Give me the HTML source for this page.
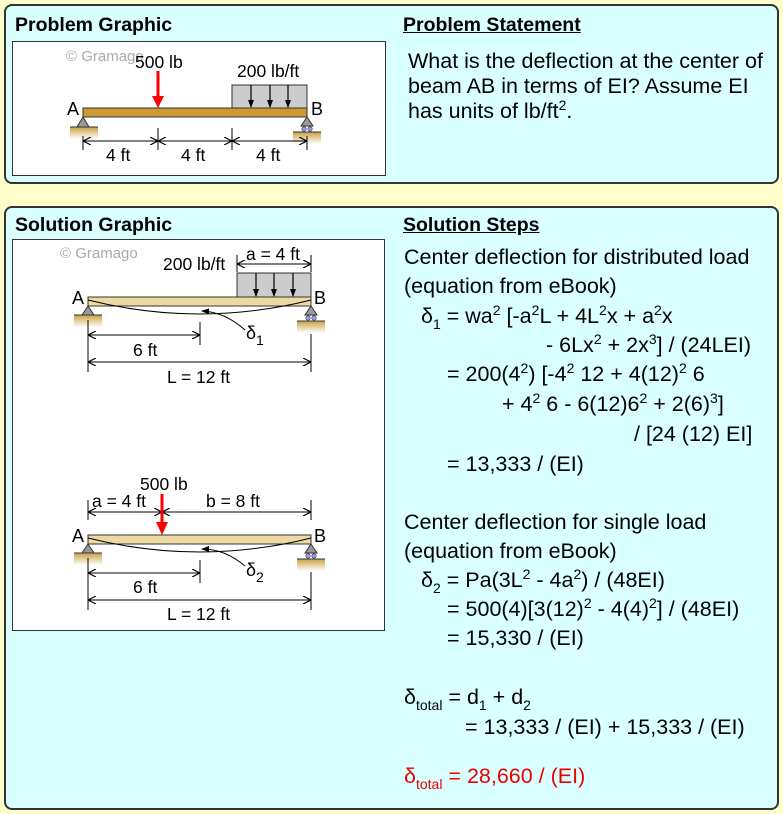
<!DOCTYPE html>
<html><head><style>
body{margin:0;width:783px;height:814px;background:#ffffcc;position:relative;overflow:hidden;font-family:"Liberation Sans",Arial,sans-serif;}
.panel{position:absolute;background:#d9ffff;border:2px solid #333;border-radius:8px;box-sizing:border-box;}
.box{position:absolute;background:#fff;border:1.5px solid #333;box-sizing:border-box;}
.h{position:absolute;font-weight:bold;font-size:19.5px;}
.t{position:absolute;font-size:21.5px;white-space:nowrap;line-height:24px;}
sup{font-size:14px;vertical-align:8px;line-height:0}
sub{font-size:14px;vertical-align:-6px;line-height:0}
.red{color:#e00;}
</style></head><body>
<div class="panel" style="left:4px;top:4px;width:775px;height:180px"></div>
<div class="panel" style="left:4px;top:206px;width:775px;height:604px"></div>
<div class="h" style="left:15px;top:14px">Problem Graphic</div>
<div class="h" style="left:403px;top:14px;text-decoration:underline">Problem Statement</div>
<div class="h" style="left:15px;top:214px">Solution Graphic</div>
<div class="h" style="left:403px;top:214px;text-decoration:underline">Solution Steps</div>
<div class="box" style="left:12px;top:41px;width:374px;height:135px"></div>
<div class="box" style="left:12px;top:239px;width:373px;height:392px"></div>

<div class="t" style="left:408px;top:49px">What is the deflection at the center of</div>
<div class="t" style="left:408px;top:74px">beam AB in terms of EI? Assume EI</div>
<div class="t" style="left:408px;top:99px">has units of lb/ft<sup>2</sup>.</div>

<div class="t" style="left:404px;top:245px">Center deflection for distributed load</div>
<div class="t" style="left:404px;top:274px">(equation from eBook)</div>
<div class="t" style="left:421px;top:304px">δ<sub>1</sub> = wa<sup>2</sup> [-a<sup>2</sup>L + 4L<sup>2</sup>x + a<sup>2</sup>x</div>
<div class="t" style="left:546px;top:333px">- 6Lx<sup>2</sup> + 2x<sup>3</sup>] / (24LEI)</div>
<div class="t" style="left:447px;top:362px">= 200(4<sup>2</sup>) [-4<sup>2</sup> 12 + 4(12)<sup>2</sup> 6</div>
<div class="t" style="left:502px;top:392px">+ 4<sup>2</sup> 6 - 6(12)6<sup>2</sup> + 2(6)<sup>3</sup>]</div>
<div class="t" style="left:634px;top:422px">/ [24 (12) EI]</div>
<div class="t" style="left:447px;top:452px">= 13,333 / (EI)</div>

<div class="t" style="left:404px;top:510px">Center deflection for single load</div>
<div class="t" style="left:404px;top:539px">(equation from eBook)</div>
<div class="t" style="left:421px;top:568px">δ<sub>2</sub> = Pa(3L<sup>2</sup> - 4a<sup>2</sup>) / (48EI)</div>
<div class="t" style="left:447px;top:597px">= 500(4)[3(12)<sup>2</sup> - 4(4)<sup>2</sup>] / (48EI)</div>
<div class="t" style="left:447px;top:626px">= 15,330 / (EI)</div>
<div class="t" style="left:404px;top:685px">δ<sub>total</sub> = d<sub>1</sub> + d<sub>2</sub></div>
<div class="t" style="left:465px;top:715px">= 13,333 / (EI) + 15,333 / (EI)</div>
<div class="t red" style="left:404px;top:764px">δ<sub>total</sub> = 28,660 / (EI)</div>

<svg width="783" height="814" style="position:absolute;left:0;top:0" font-family="Liberation Sans, Arial, sans-serif">
<defs>
<linearGradient id="g" x1="0" y1="0" x2="0" y2="1"><stop offset="0" stop-color="#c9a040"/><stop offset="1" stop-color="#fff"/></linearGradient>
<marker id="ar" markerWidth="8" markerHeight="8" refX="7" refY="4" orient="auto-start-reverse" markerUnits="userSpaceOnUse"><path d="M0,0 L8,4 L0,8" fill="none" stroke="#000" stroke-width="1.2"/></marker>
<marker id="af" markerWidth="8" markerHeight="8" refX="7" refY="4" orient="auto" markerUnits="userSpaceOnUse"><path d="M0,1 L8,4 L0,7z" fill="#000"/></marker>
</defs>
<!-- Problem graphic -->
<text x="66" y="61" font-size="15" fill="#aaa">© Gramago</text>
<text x="135" y="68" font-size="17.5">500 lb</text>
<line x1="158" y1="71" x2="158" y2="98" stroke="#f00" stroke-width="3"/>
<path d="M152,96 L164,96 L158,108z" fill="#f00"/>
<text x="237" y="77" font-size="17.5">200 lb/ft</text>
<rect x="232" y="85" width="75" height="23" fill="#ccc" stroke="#333"/>
<g stroke="#000" stroke-width="1.2" marker-end="url(#af)"><line x1="251" y1="85" x2="251" y2="107"/><line x1="270" y1="85" x2="270" y2="107"/><line x1="288" y1="85" x2="288" y2="107"/></g>
<rect x="83" y="108" width="224" height="9" fill="#cc9933" stroke="#333"/>
<text x="67" y="115" font-size="18">A</text><text x="311" y="115" font-size="18">B</text>
<path d="M83,117 L77,127 L89,127z" fill="#999" stroke="#333"/>
<rect x="70" y="127" width="28" height="12" fill="url(#g)"/><line x1="70" y1="127" x2="98" y2="127" stroke="#333"/>
<path d="M307,117 L301,126 L313,126z" fill="#999" stroke="#333"/>
<circle cx="304" cy="129" r="2.2" fill="#99f" stroke="#333" stroke-width=".6"/><circle cx="310" cy="129" r="2.2" fill="#99f" stroke="#333" stroke-width=".6"/>
<rect x="293" y="132" width="28" height="12" fill="url(#g)"/><line x1="293" y1="132" x2="321" y2="132" stroke="#333"/>
<g stroke="#000" stroke-width="1"><line x1="83" y1="136" x2="83" y2="150"/><line x1="158" y1="128" x2="158" y2="150"/><line x1="232" y1="128" x2="232" y2="150"/><line x1="307" y1="136" x2="307" y2="150"/>
<line x1="84" y1="141" x2="157" y2="141" marker-start="url(#ar)" marker-end="url(#ar)"/><line x1="159" y1="141" x2="231" y2="141" marker-start="url(#ar)" marker-end="url(#ar)"/><line x1="233" y1="141" x2="306" y2="141" marker-start="url(#ar)" marker-end="url(#ar)"/></g>
<text x="106" y="161" font-size="17.5">4 ft</text><text x="181" y="161" font-size="17.5">4 ft</text><text x="256" y="161" font-size="17.5">4 ft</text>

<!-- Solution graphic 1 -->
<text x="60" y="258" font-size="15" fill="#aaa">© Gramago</text>
<text x="163" y="270" font-size="17.5">200 lb/ft</text>
<line x1="237" y1="255" x2="237" y2="272" stroke="#000"/><line x1="311" y1="255" x2="311" y2="272" stroke="#000"/>
<line x1="238" y1="264" x2="310" y2="264" stroke="#000" marker-start="url(#ar)" marker-end="url(#ar)"/>
<text x="246" y="260" font-size="17.5">a = 4 ft</text>
<rect x="237" y="273" width="74" height="24" fill="#ccc" stroke="#333"/>
<g stroke="#000" stroke-width="1.2" marker-end="url(#af)"><line x1="256" y1="273" x2="256" y2="296"/><line x1="274" y1="273" x2="274" y2="296"/><line x1="293" y1="273" x2="293" y2="296"/></g>
<rect x="88" y="297" width="223" height="9" fill="#eed9a0" stroke="#333"/>
<path d="M88,300 Q200,328 311,300" fill="none" stroke="#000"/>
<path d="M245,330 Q225,312 202,311" fill="none" stroke="#000" marker-end="url(#af)"/>
<text x="72" y="304" font-size="18">A</text><text x="314" y="304" font-size="18">B</text>
<text x="246" y="339" font-size="18">δ</text><text x="256" y="345" font-size="14">1</text>
<path d="M88,306 L82,315 L94,315z" fill="#999" stroke="#333"/>
<rect x="74" y="315" width="28" height="12" fill="url(#g)"/><line x1="74" y1="315" x2="102" y2="315" stroke="#333"/>
<path d="M311,306 L305,315 L317,315z" fill="#999" stroke="#333"/>
<circle cx="308" cy="318" r="2.2" fill="#99f" stroke="#333" stroke-width=".6"/><circle cx="314" cy="318" r="2.2" fill="#99f" stroke="#333" stroke-width=".6"/>
<rect x="297" y="321" width="28" height="12" fill="url(#g)"/><line x1="297" y1="321" x2="325" y2="321" stroke="#333"/>
<g stroke="#000"><line x1="88" y1="320" x2="88" y2="372"/><line x1="200" y1="322" x2="200" y2="345"/><line x1="311" y1="334" x2="311" y2="372"/>
<line x1="89" y1="335" x2="199" y2="335" marker-start="url(#ar)" marker-end="url(#ar)"/><line x1="89" y1="362" x2="310" y2="362" marker-start="url(#ar)" marker-end="url(#ar)"/></g>
<text x="133" y="356" font-size="17.5">6 ft</text><text x="167" y="383" font-size="17.5">L = 12 ft</text>

<!-- Solution graphic 2 -->
<text x="140" y="490" font-size="17.5">500 lb</text>
<line x1="88" y1="500" x2="88" y2="520" stroke="#000"/><line x1="311" y1="500" x2="311" y2="520" stroke="#000"/>
<line x1="89" y1="512" x2="161" y2="512" stroke="#000" marker-start="url(#ar)" marker-end="url(#ar)"/>
<line x1="163" y1="512" x2="310" y2="512" stroke="#000" marker-start="url(#ar)" marker-end="url(#ar)"/>
<text x="92" y="507" font-size="17.5">a = 4 ft</text><text x="206" y="507" font-size="17.5">b = 8 ft</text>
<line x1="162" y1="494" x2="162" y2="524" stroke="#f00" stroke-width="3"/>
<path d="M156,522 L168,522 L162,535z" fill="#f00"/>
<rect x="88" y="535" width="223" height="9" fill="#eed9a0" stroke="#333"/>
<path d="M88,538 Q200,566 311,538" fill="none" stroke="#000"/>
<path d="M245,566 Q225,549 202,549" fill="none" stroke="#000" marker-end="url(#af)"/>
<text x="72" y="542" font-size="18">A</text><text x="314" y="542" font-size="18">B</text>
<text x="246" y="576" font-size="18">δ</text><text x="256" y="582" font-size="14">2</text>
<path d="M88,544 L82,553 L94,553z" fill="#999" stroke="#333"/>
<rect x="74" y="553" width="28" height="12" fill="url(#g)"/><line x1="74" y1="553" x2="102" y2="553" stroke="#333"/>
<path d="M311,544 L305,553 L317,553z" fill="#999" stroke="#333"/>
<circle cx="308" cy="556" r="2.2" fill="#99f" stroke="#333" stroke-width=".6"/><circle cx="314" cy="556" r="2.2" fill="#99f" stroke="#333" stroke-width=".6"/>
<rect x="297" y="559" width="28" height="12" fill="url(#g)"/><line x1="297" y1="559" x2="325" y2="559" stroke="#333"/>
<g stroke="#000"><line x1="88" y1="558" x2="88" y2="610"/><line x1="200" y1="560" x2="200" y2="583"/><line x1="311" y1="572" x2="311" y2="610"/>
<line x1="89" y1="573" x2="199" y2="573" marker-start="url(#ar)" marker-end="url(#ar)"/><line x1="89" y1="600" x2="310" y2="600" marker-start="url(#ar)" marker-end="url(#ar)"/></g>
<text x="133" y="593" font-size="17.5">6 ft</text><text x="167" y="620" font-size="17.5">L = 12 ft</text>
</svg>
</body></html>
